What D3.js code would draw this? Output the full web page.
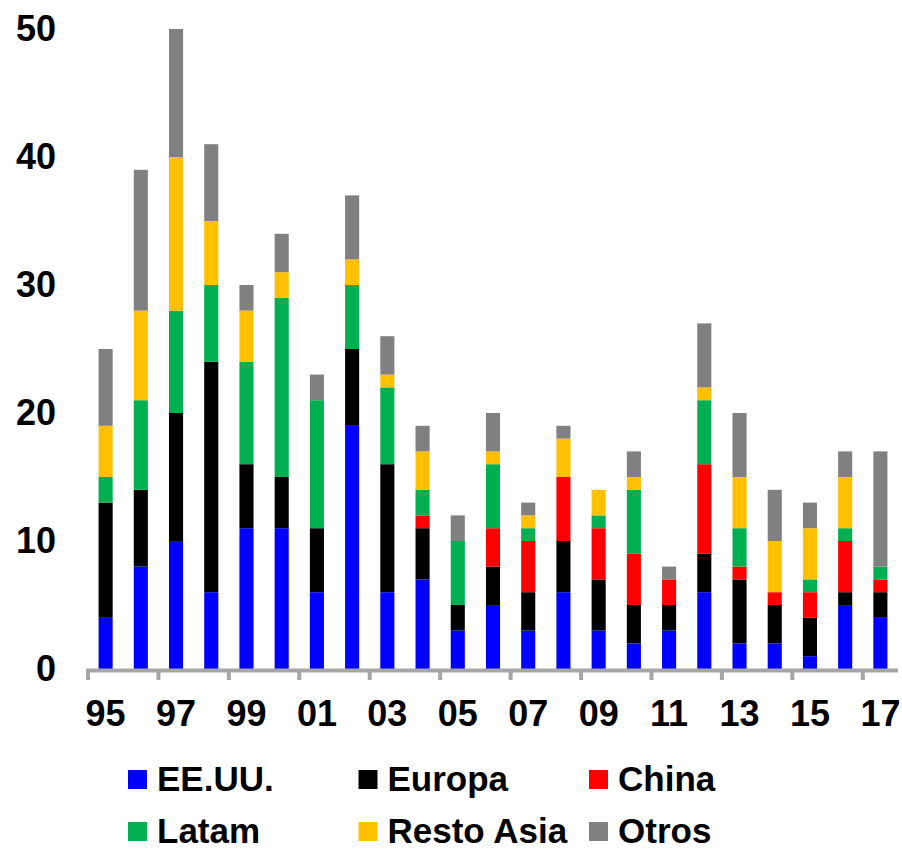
<!DOCTYPE html>
<html>
<head>
<meta charset="utf-8">
<script src="https://cdn.jsdelivr.net/npm/d3@7"></script>
<style>
  body { margin: 0; background: #fff; }
  svg text { font-family: "Liberation Sans", Arial, sans-serif; font-weight: bold; fill: #000; }
</style>
</head>
<body>
<svg id="chart" width="902" height="851"></svg>
<script>
var years = ['95', '96', '97', '98', '99', '00', '01', '02', '03', '04', '05', '06',
  '07', '08', '09', '10', '11', '12', '13', '14', '15', '16', '17'];

var eeuu      = [4, 8, 10, 6, 11, 11, 6, 19, 6, 7, 3, 5, 3, 6, 3, 2, 3, 6, 2, 2, 1, 5, 4];
var europa    = [9, 6, 10, 18, 5, 4, 5, 6, 10, 4, 2, 3, 3, 4, 4, 3, 2, 3, 5, 3, 3, 1, 2];
var china     = [0, 0, 0, 0, 0, 0, 0, 0, 0, 1, 0, 3, 4, 5, 4, 4, 2, 7, 1, 1, 2, 4, 1];
var latam     = [2, 7, 8, 6, 8, 14, 10, 5, 6, 2, 5, 5, 1, 0, 1, 5, 0, 5, 3, 0, 1, 1, 1];
var restoAsia = [4, 7, 12, 5, 4, 2, 0, 2, 1, 3, 0, 1, 1, 3, 2, 1, 0, 1, 4, 4, 4, 4, 0];
var otros     = [6, 11, 10, 6, 2, 3, 2, 5, 3, 2, 2, 3, 1, 1, 0, 2, 1, 5, 5, 4, 2, 2, 9];

var seriesNames = ['EE.UU.', 'Europa', 'China', 'Latam', 'Resto Asia', 'Otros'];
var seriesValues = [eeuu, europa, china, latam, restoAsia, otros];
var seriesColors = ['#0000ff', '#000000', '#ff0000', '#00b050', '#ffc000', '#808080'];
var yTicks = [0, 10, 20, 30, 40, 50];

var svg = d3.select('#chart');

// rows for d3.stack
var rows = years.map(function(yr, i) {
  var r = { year: yr };
  seriesNames.forEach(function(s, j) { r[s] = seriesValues[j][i]; });
  return r;
});

var x = d3.scaleBand()
  .domain(years)
  .range([88, 898])
  .paddingInner(0.6)
  .paddingOuter(0.3);

var y = d3.scaleLinear()
  .domain([0, 50])
  .range([669, 29]);

var color = d3.scaleOrdinal().domain(seriesNames).range(seriesColors);

var stacked = d3.stack().keys(seriesNames)(rows);

svg.append('g').selectAll('g')
  .data(stacked).enter()
  .append('g')
  .attr('fill', function(d) { return color(d.key); })
  .selectAll('rect')
  .data(function(d) { return d; }).enter()
  .append('rect')
  .attr('x', function(d) { return x(d.data.year); })
  .attr('y', function(d) { return y(d[1]); })
  .attr('width', x.bandwidth())
  .attr('height', function(d) { return y(d[0]) - y(d[1]); });

// x axis line and boundary ticks (every second category)
var step = x.step(),
  offset = (step - x.bandwidth()) / 2;

svg.append('line')
  .attr('x1', x(years[0]) - offset - 2)
  .attr('x2', x(years[years.length - 1]) + x.bandwidth() + offset)
  .attr('y1', y(0) + 1.5)
  .attr('y2', y(0) + 1.5)
  .attr('stroke', '#a6a6a6')
  .attr('stroke-width', 4);

svg.append('g').selectAll('line')
  .data(years.filter(function(d, i) { return i % 2 === 0; })).enter()
  .append('line')
  .attr('x1', function(d) { return x(d) - offset; })
  .attr('x2', function(d) { return x(d) - offset; })
  .attr('y1', y(0) + 1.5)
  .attr('y2', y(0) + 11)
  .attr('stroke', '#a6a6a6')
  .attr('stroke-width', 4);

// x labels
var xAxis = svg.append('g')
  .attr('transform', 'translate(0,' + (y(0) + 1) + ')')
  .call(d3.axisBottom(x)
    .tickValues(years.filter(function(d, i) { return i % 2 === 0; }))
    .tickSize(0)
    .tickPadding(30));
xAxis.select('.domain').remove();
xAxis.selectAll('text')
  .style('font-size', '36px')
  .style('font-family', '"Liberation Sans", Arial, sans-serif')
  .style('font-weight', 'bold')
  .attr('fill', '#000');

// y labels
var yAxis = svg.append('g')
  .attr('transform', 'translate(56,0)')
  .call(d3.axisLeft(y).tickValues(yTicks).tickSize(0).tickPadding(0));
yAxis.select('.domain').remove();
yAxis.selectAll('text')
  .style('font-size', '36px')
  .style('font-family', '"Liberation Sans", Arial, sans-serif')
  .style('font-weight', 'bold')
  .attr('fill', '#000');

// legend, 3 columns x 2 rows
var legend = svg.append('g').selectAll('g')
  .data(seriesNames).enter()
  .append('g')
  .attr('transform', function(d, i) {
    return 'translate(' + (128 + (i % 3) * 230.5) + ',' + (770 + Math.floor(i / 3) * 52) + ')';
  });

legend.append('rect')
  .attr('width', 19)
  .attr('height', 19)
  .attr('fill', function(d) { return color(d); });

legend.append('text')
  .attr('x', 29)
  .attr('y', 21)
  .style('font-size', '35px')
  .text(function(d) { return d; });
</script>
</body>
</html>
